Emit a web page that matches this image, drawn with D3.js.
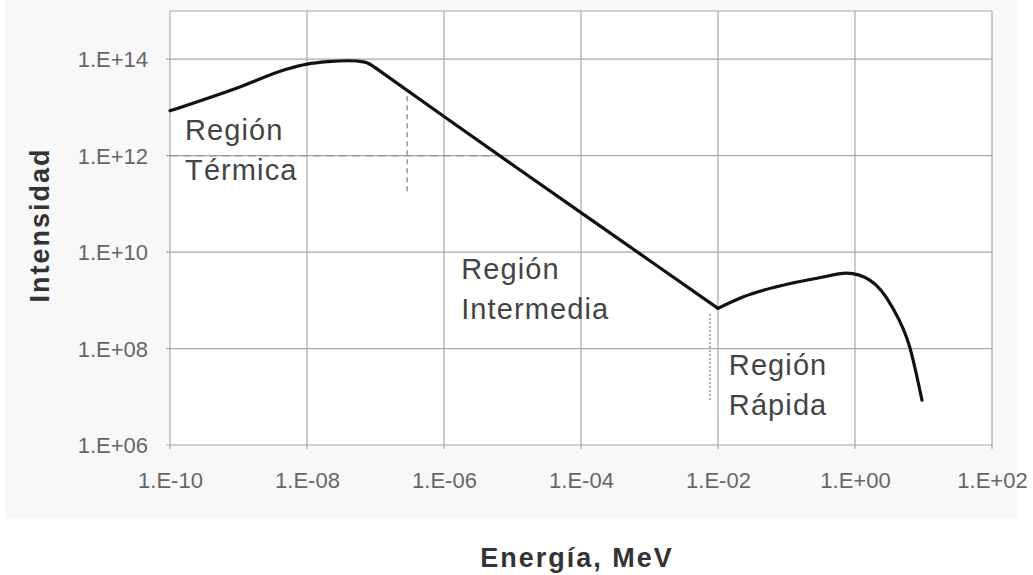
<!DOCTYPE html>
<html>
<head>
<meta charset="utf-8">
<script src="https://cdn.jsdelivr.net/npm/d3@7/dist/d3.min.js"></script>
<style>
  html, body { margin: 0; padding: 0; background: #ffffff; }
  svg { display: block; }
  text { font-family: "Liberation Sans", Arial, sans-serif; }
</style>
</head>
<body>
<svg id="chart" width="1033" height="575"></svg>
<script>
// ---- data ----
// thermal region (smooth), intermediate region (1/E straight line), fast region (smooth)
const thermalE = [1e-10, 1e-9, 5e-9, 1e-8, 2e-8, 4e-8, 7e-8, 1e-7];
const thermalI = [8.5e12, 2.6e13, 6.2e13, 7.9e13, 8.9e13, 9.3e13, 8.7e13, 6.6e13];
const interE = [1e-7, 1e-6, 1e-5, 1e-4, 1e-3, 1e-2];
const interI = [6.6e13, 6.5e12, 6.5e11, 6.6e10, 6.7e9, 6.8e8];
const fastE = [1e-2, 2.3e-2, 1.25e-1, 2.9e-1, 7.6e-1, 1.66, 3.5, 6.3, 9.5];
const fastI = [6.8e8, 1.17e9, 2.3e9, 2.9e9, 3.65e9, 2.6e9, 7.2e8, 1.07e8, 8.5e6];
const xTicks = [1e-10, 1e-8, 1e-6, 1e-4, 1e-2, 1e0, 1e2];
const xTickLabels = ["1.E-10", "1.E-08", "1.E-06", "1.E-04", "1.E-02", "1.E+00", "1.E+02"];
const yTicks = [1e6, 1e8, 1e10, 1e12, 1e14];
const yTickLabels = ["1.E+06", "1.E+08", "1.E+10", "1.E+12", "1.E+14"];
const regionLabels = [
  { lines: ["Región", "Térmica"], e: 1.66e-10, v: 2.14e12 },
  { lines: ["Región", "Intermedia"], e: 1.78e-6, v: 2.75e9 },
  { lines: ["Región", "Rápida"], e: 1.44e-2, v: 2.8e7 }
];
// guide (drop) lines
const thermalDrop = { e: 2.9e-7, v0: 1.7e13, v1: 1.7e11 };
const thermalHoriz = { e0: 1e-10, e1: 5.8e-6, v: 1e12 };
const fastDrop = { e: 7.6e-3, v0: 5.2e8, v1: 8.5e6 };

// ---- layout ----
const svg = d3.select("#chart");
const L = 170, R = 992, T = 11, B = 445;

svg.append("rect").attr("x", 5).attr("y", 0).attr("width", 1013).attr("height", 519).attr("fill", "#f8f8f8");
svg.append("rect").attr("x", L).attr("y", T).attr("width", R - L).attr("height", B - T).attr("fill", "#ffffff");

const x = d3.scaleLog().domain([1e-10, 1e2]).range([L, R]);
const y = d3.scaleLog().domain([1e6, 1e15]).range([B, T]);

const gridColor = "#a8a8a8";
svg.append("g").selectAll("line").data(xTicks).join("line")
  .attr("x1", d => x(d)).attr("x2", d => x(d)).attr("y1", T).attr("y2", B + 4)
  .attr("stroke", gridColor).attr("stroke-width", 1.2);
svg.append("g").selectAll("line").data(yTicks).join("line")
  .attr("x1", L - 4).attr("x2", R).attr("y1", d => y(d)).attr("y2", d => y(d))
  .attr("stroke", gridColor).attr("stroke-width", 1.2);
svg.append("line").attr("x1", L).attr("x2", R).attr("y1", T).attr("y2", T)
  .attr("stroke", gridColor).attr("stroke-width", 1.2);

const xAxis = d3.axisBottom(x).tickValues(xTicks).tickFormat((d, i) => xTickLabels[i]).tickSize(0).tickPadding(0);
const gx = svg.append("g").attr("transform", `translate(0,${B})`).call(xAxis);
gx.select(".domain").remove();
gx.selectAll("text").attr("font-size", 22).attr("fill", "#666").attr("dy", null).attr("y", 43)
  .style("font-family", "'Liberation Sans', Arial, sans-serif");

const yAxis = d3.axisLeft(y).tickValues(yTicks).tickFormat((d, i) => yTickLabels[i]).tickSize(0).tickPadding(0);
const gy = svg.append("g").attr("transform", `translate(${L},0)`).call(yAxis);
gy.select(".domain").remove();
gy.selectAll("text").attr("font-size", 22).attr("fill", "#666").attr("x", -22).attr("dy", "0.35em")
  .style("font-family", "'Liberation Sans', Arial, sans-serif");

// guide lines
svg.append("line").attr("x1", x(thermalDrop.e)).attr("x2", x(thermalDrop.e))
  .attr("y1", y(thermalDrop.v0)).attr("y2", y(thermalDrop.v1))
  .attr("stroke", "#999").attr("stroke-width", 1.5).attr("stroke-dasharray", "5,4");
svg.append("line").attr("x1", x(thermalHoriz.e0)).attr("x2", x(thermalHoriz.e1))
  .attr("y1", y(thermalHoriz.v)).attr("y2", y(thermalHoriz.v))
  .attr("stroke", "#999").attr("stroke-width", 1.5).attr("stroke-dasharray", "8,5");
svg.append("line").attr("x1", x(fastDrop.e)).attr("x2", x(fastDrop.e))
  .attr("y1", y(fastDrop.v0)).attr("y2", y(fastDrop.v1))
  .attr("stroke", "#999").attr("stroke-width", 1.5).attr("stroke-dasharray", "2,2");

// curve
const toPts = (E, I) => E.map((e, i) => [e, I[i]]);
const smooth = d3.line().x(d => x(d[0])).y(d => y(d[1])).curve(d3.curveMonotoneX);
const straight = d3.line().x(d => x(d[0])).y(d => y(d[1])).curve(d3.curveLinear);
const curveG = svg.append("g").attr("fill", "none").attr("stroke", "#111")
  .attr("stroke-width", 3.2).attr("stroke-linejoin", "round").attr("stroke-linecap", "round");
curveG.append("path").attr("d", smooth(toPts(thermalE, thermalI)));
curveG.append("path").attr("d", straight(toPts(interE, interI)));
curveG.append("path").attr("d", smooth(toPts(fastE, fastI)));

// region labels
regionLabels.forEach(r => {
  const t = svg.append("text").attr("x", x(r.e)).attr("y", y(r.v))
    .attr("font-size", 29).attr("letter-spacing", 1.1).attr("fill", "#444");
  r.lines.forEach((s, i) => {
    t.append("tspan").attr("x", x(r.e)).attr("dy", i === 0 ? 0 : 40).text(s);
  });
});

// axis titles
svg.append("text").attr("x", 577).attr("y", 567).attr("text-anchor", "middle")
  .attr("font-size", 27).attr("font-weight", "bold").attr("fill", "#333")
  .attr("letter-spacing", 2).text("Energía, MeV");
svg.append("text").attr("transform", "translate(49,225) rotate(-90)").attr("text-anchor", "middle")
  .attr("font-size", 27).attr("font-weight", "bold").attr("fill", "#333")
  .attr("letter-spacing", 2).text("Intensidad");
</script>
</body>
</html>
